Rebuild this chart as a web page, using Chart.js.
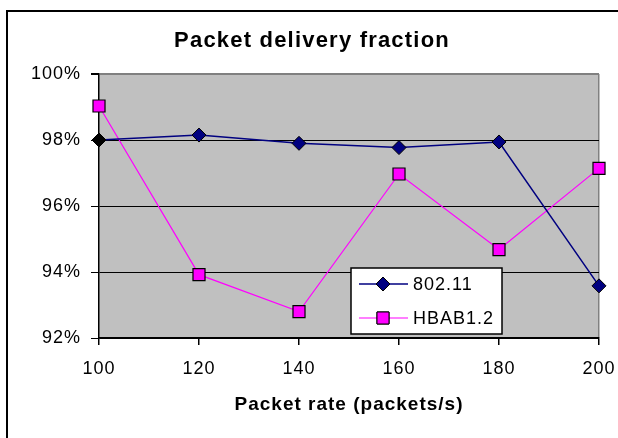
<!DOCTYPE html>
<html>
<head>
<meta charset="utf-8">
<script src="https://cdn.jsdelivr.net/npm/chart.js@4"></script>
<style>
  html, body { margin: 0; padding: 0; background: #fff; overflow: hidden; }
  #wrap { position: relative; width: 618px; height: 438px; }
  #frame { position: absolute; left: 6px; top: 10px; width: 700px; height: 500px; border: 2px solid #000; }
  canvas { position: absolute; left: 0; top: 0; }
</style>
</head>
<body>
<div id="wrap">
  <div id="frame"></div>
  <canvas id="myChart" width="618" height="438"></canvas>
</div>
<script>
const rates = ["100", "120", "140", "160", "180", "200"];
const ieee80211 = [98.0, 98.15, 97.9, 97.77, 97.94, 93.58];
const hbab12 = [99.03, 93.92, 92.8, 96.97, 94.68, 97.14];
const yTicks = [92, 94, 96, 98, 100];
const chartTitle = "Packet delivery fraction";

const fontFamily = "'Liberation Sans', Arial, sans-serif";

// the original text is set a bit wider than Arial, so space the letters out
const spacing = {
  id: "spacing",
  beforeUpdate(chart) { chart.ctx.letterSpacing = "1px"; },
  beforeDraw(chart) { chart.ctx.letterSpacing = "1px"; },
};

// grey plot background
const plotBg = {
  id: "plotBg",
  beforeDraw(chart) {
    const { ctx, chartArea: a } = chart;
    ctx.save();
    ctx.fillStyle = "#c0c0c0";
    ctx.fillRect(a.left, a.top, a.right - a.left, a.bottom - a.top);
    ctx.restore();
  },
};

// title centred on the whole picture, not on the padded box
const topTitle = {
  id: "topTitle",
  afterDraw(chart) {
    const ctx = chart.ctx;
    ctx.save();
    ctx.letterSpacing = "1.2px";
    ctx.fillStyle = "#000";
    ctx.font = "bold 22px " + fontFamily;
    ctx.textAlign = "center";
    ctx.textBaseline = "alphabetic";
    ctx.fillText(chartTitle, chart.width / 2 + 3, 47);
    ctx.restore();
  },
};

// excel-like legend box: line sample with marker in the middle
const boxLegend = {
  id: "boxLegend",
  afterDraw(chart) {
    const { ctx, chartArea: a } = chart;
    const x = a.left + 252, y = a.top + 194, w = 151, h = 66;
    ctx.save();
    ctx.fillStyle = "#fff";
    ctx.fillRect(x, y, w, h);
    ctx.strokeStyle = "#000";
    ctx.lineWidth = 1.5;
    ctx.strokeRect(x, y, w, h);
    chart.data.datasets.forEach((ds, i) => {
      const cy = y + 16 + i * 34;
      ctx.strokeStyle = ds.borderColor;
      ctx.lineWidth = ds.borderWidth;
      ctx.beginPath();
      ctx.moveTo(x + 8, cy);
      ctx.lineTo(x + 57, cy);
      ctx.stroke();
      ctx.fillStyle = ds.legendFill;
      ctx.strokeStyle = "#000";
      ctx.lineWidth = 1;
      Chart.helpers.drawPoint(ctx, { pointStyle: ds.pointStyle, radius: ds.pointRadius, borderWidth: 1 }, x + 32, cy);
      ctx.fill();
      ctx.stroke();
      ctx.fillStyle = "#000";
      ctx.font = "18px " + fontFamily;
      ctx.textBaseline = "middle";
      ctx.fillText(ds.label, x + 62, cy + 1);
    });
    ctx.restore();
  },
};

const ctx = document.getElementById("myChart").getContext("2d");
new Chart(ctx, {
  type: "line",
  data: {
    labels: rates,
    datasets: [
      {
        label: "802.11",
        data: ieee80211,
        borderColor: "#000080",
        borderWidth: 1.5,
        pointStyle: "rectRot",
        pointRadius: 7,
        pointBorderColor: "#000",
        pointBorderWidth: 1,
        pointBackgroundColor: ieee80211.map((v, i) => (i === 0 ? "#000" : "#000080")),
        legendFill: "#000080",
        tension: 0,
      },
      {
        label: "HBAB1.2",
        data: hbab12,
        borderColor: "#ff00ff",
        borderWidth: 1.2,
        pointStyle: "rect",
        pointRadius: 8.5,
        pointBorderColor: "#000",
        pointBorderWidth: 1.2,
        pointBackgroundColor: "#ff00ff",
        legendFill: "#ff00ff",
        tension: 0,
      },
    ],
  },
  options: {
    responsive: false,
    animation: false,
    layout: { padding: { top: 74, left: 0, right: 19, bottom: 22 } },
    plugins: {
      legend: { display: false },
      tooltip: { enabled: false },
      title: { display: false },
    },
    scales: {
      x: {
        offset: false,
        grid: {
          color: (c) => (c.index === rates.length - 1 ? "#808080" : "rgba(0,0,0,0)"),
          tickColor: "#000",
          tickLength: 7,
          lineWidth: 1.5,
        },
        border: { color: "#000", width: 1.5 },
        ticks: { color: "#000", font: { family: fontFamily, size: 18 }, padding: 13, maxRotation: 0 },
        title: {
          display: true,
          text: "Packet rate (packets/s)",
          color: "#000",
          font: { family: fontFamily, size: 19, weight: "bold" },
          padding: 0,
        },
        afterFit(scale) {
          scale.height = 78;
          scale.paddingLeft = 0;
          scale.paddingRight = 0;
        },
      },
      y: {
        min: yTicks[0],
        max: yTicks[yTicks.length - 1],
        afterBuildTicks(scale) { scale.ticks = yTicks.map((v) => ({ value: v })); },
        grid: {
          color: (c) => (c.tick && c.tick.value === 100 ? "#808080" : "#000"),
          tickColor: "#000",
          tickLength: 8,
          lineWidth: (c) => (c.tick && c.tick.value === 100 ? 2 : 1),
        },
        border: { color: "#000", width: 1.5 },
        ticks: {
          color: "#000",
          font: { family: fontFamily, size: 18 },
          padding: 10,
          callback: (v) => v + "%",
        },
        afterFit(scale) {
          scale.width = 99;
          scale.paddingTop = 0;
          scale.paddingBottom = 0;
        },
      },
    },
  },
  plugins: [spacing, plotBg, topTitle, boxLegend],
});
</script>
</body>
</html>
